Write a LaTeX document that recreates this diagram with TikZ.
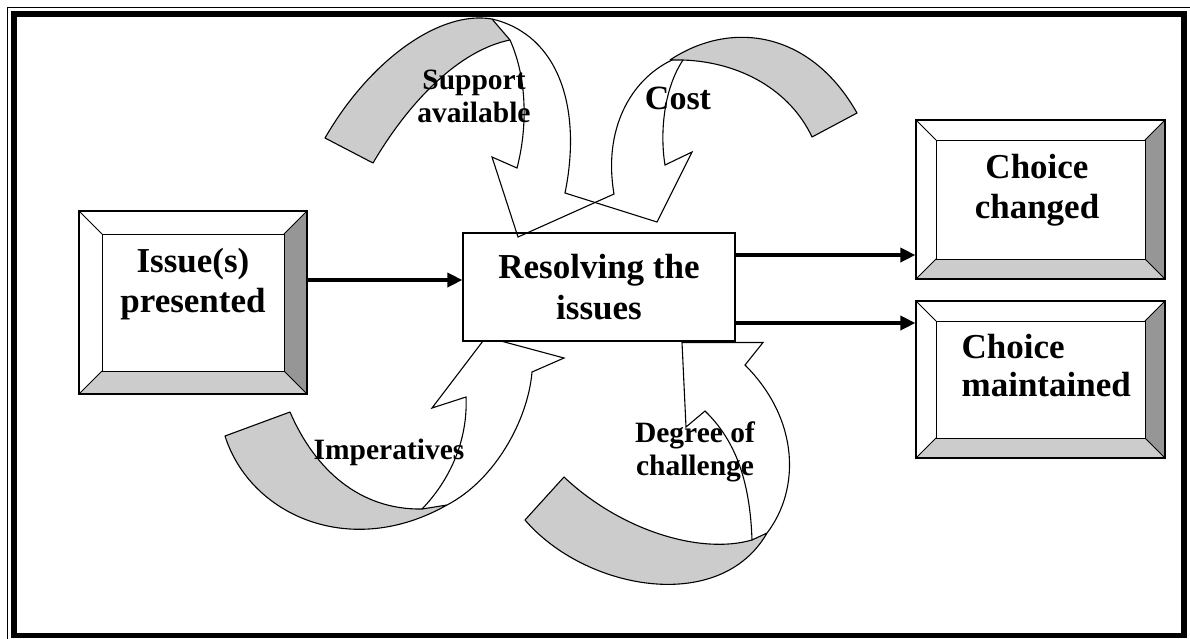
\documentclass[tikz,border=0pt]{standalone}
\usepackage{fontspec}
\setmainfont{Liberation Serif}
\usetikzlibrary{arrows.meta,positioning}
\definecolor{bevelside}{RGB}{150,150,150}
\definecolor{bevelbase}{RGB}{204,204,204}
\definecolor{ribbongray}{RGB}{204,204,204}
\tikzstyle{arrow} = [line width=3.5pt,-{Triangle[length=15pt,width=14pt]}]
\tikzstyle{plainbox} = [rectangle, draw, line width=1.2pt, fill=white, align=center, inner sep=0pt, font=\bfseries\fontsize{35}{41}\selectfont]
\tikzstyle{boxtext} = [inner sep=0pt, align=center, font=\bfseries\fontsize{35}{39.5}\selectfont]
\tikzstyle{ribbontext} = [inner sep=0pt, align=center, anchor=north, font=\bfseries\fontsize{29.5}{33}\selectfont]
\tikzstyle{ribbonback} = [fill=ribbongray, draw, line width=1.1pt, line join=round]
\tikzstyle{ribbonfront} = [draw, line width=1.1pt, line join=miter]
\tikzset{bevelbox/.style={rectangle, draw, line width=1.2pt, fill=white, inner sep=0pt,
  path picture={
    \fill[bevelside] (path picture bounding box.north east) -- (path picture bounding box.south east)
      -- ([shift={(-#1,#1)}]path picture bounding box.south east) -- ([shift={(-#1,-#1)}]path picture bounding box.north east) -- cycle;
    \fill[bevelbase] (path picture bounding box.south west) -- (path picture bounding box.south east)
      -- ([shift={(-#1,#1)}]path picture bounding box.south east) -- ([shift={(#1,#1)}]path picture bounding box.south west) -- cycle;
    \draw[line width=0.9pt] ([shift={(#1,-#1)}]path picture bounding box.north west) rectangle ([shift={(-#1,#1)}]path picture bounding box.south east);
    \draw[line width=0.9pt] (path picture bounding box.north west) -- ++(#1,-#1);
    \draw[line width=0.9pt] (path picture bounding box.north east) -- ++(-#1,-#1);
    \draw[line width=0.9pt] (path picture bounding box.south west) -- ++(#1,#1);
    \draw[line width=0.9pt] (path picture bounding box.south east) -- ++(-#1,#1);
  }}}

\begin{document}
\begin{tikzpicture}[x=1pt, y=-1pt]
\useasboundingbox (0,0) rectangle (1190,638);
% page border
\draw[line width=1.2pt] (7.5,7.5) rectangle (1192,642);
\draw[line width=5.5pt] (14.2,14.2) rectangle (1184,635.5);

% lower ribbons
\draw[ribbonback] (225,436) .. controls (250,515) and (350,560) .. (447,505) -- (422,509) .. controls (360,510) and (315,470) .. (290,412) -- cycle;
\draw[ribbonfront] (422,509) .. controls (450,480) and (468,440) .. (466,397) -- (432,408) -- (486,337) -- (564,358) -- (532,372) .. controls (528,420) and (495,480) .. (447,505);
\draw[ribbonback] (525,520) .. controls (585,590) and (720,615) .. (767,533) -- (752,540) .. controls (700,555) and (620,530) .. (564,477) -- cycle;
\draw[ribbonfront] (752,540) .. controls (750,480) and (735,440) .. (705,411) -- (686,427) -- (682,342.5) -- (763,342.5) -- (745,365) .. controls (800,420) and (800,490) .. (767,533);

% boxes
\node (issue) [bevelbox=23pt, minimum width=228pt, minimum height=183pt] at (193,302.5) {};
\node (resolve) [plainbox, minimum width=272pt, minimum height=108pt] at (599,287) {Resolving the\\issues};
\node (changed) [bevelbox=20pt, minimum width=249pt, minimum height=159pt] at (1040.5,199.5) {};
\node (kept) [bevelbox=20pt, minimum width=249pt, minimum height=157pt] at (1040.5,379.5) {};

\node (issuetext) [boxtext, below=38pt of issue.north] {Issue(s)\\presented};
\node (changedtext) [boxtext, below=35pt of changed.north, xshift=-3.5pt] {Choice\\changed};
\node (kepttext) [boxtext, align=left, font=\bfseries\fontsize{35}{38}\selectfont, below right=34pt and 46pt of kept.north west] {Choice\\maintained};

% upper ribbons
\draw[ribbonback] (325,138) .. controls (370,60) and (440,10) .. (492,19) -- (510,40) .. controls (460,50) and (410,100) .. (373,163) -- cycle;
\draw[ribbonfront] (510,40) .. controls (528,80) and (527,130) .. (517,168) -- (492,157) -- (518,237) -- (614,194) .. controls (603,130) and (630,80) .. (672,60);
\draw[ribbonback] (670,60) .. controls (730,20) and (810,30) .. (857,113) -- (812,137) .. controls (790,90) and (740,62) .. (683,60) -- cycle;
\draw[ribbonfront] (683,60) .. controls (663,90) and (660,135) .. (665,165) -- (692,152) -- (657,222) -- (565,193) .. controls (582,110) and (560,35) .. (492,19);

% ribbon labels
\node (supportlabel) [ribbontext] at (474,70) {Support\\available};
\node (costlabel) [ribbontext, font=\bfseries\fontsize{34}{40}\selectfont] at (678,87) {Cost};
\node (imperlabel) [ribbontext] at (389,439) {Imperatives};
\node (degreelabel) [ribbontext] at (695,422) {Degree of\\challenge};

\draw[arrow] ([yshift=7pt]resolve.west -| issue.east) -- ([yshift=7pt]resolve.west);
\draw[arrow] ([yshift=32pt]resolve.east) -- ([yshift=32pt]resolve.east -| changed.west);
\draw[arrow] ([yshift=-36pt]resolve.east) -- ([yshift=-36pt]resolve.east -| kept.west);
\end{tikzpicture}
\end{document}
